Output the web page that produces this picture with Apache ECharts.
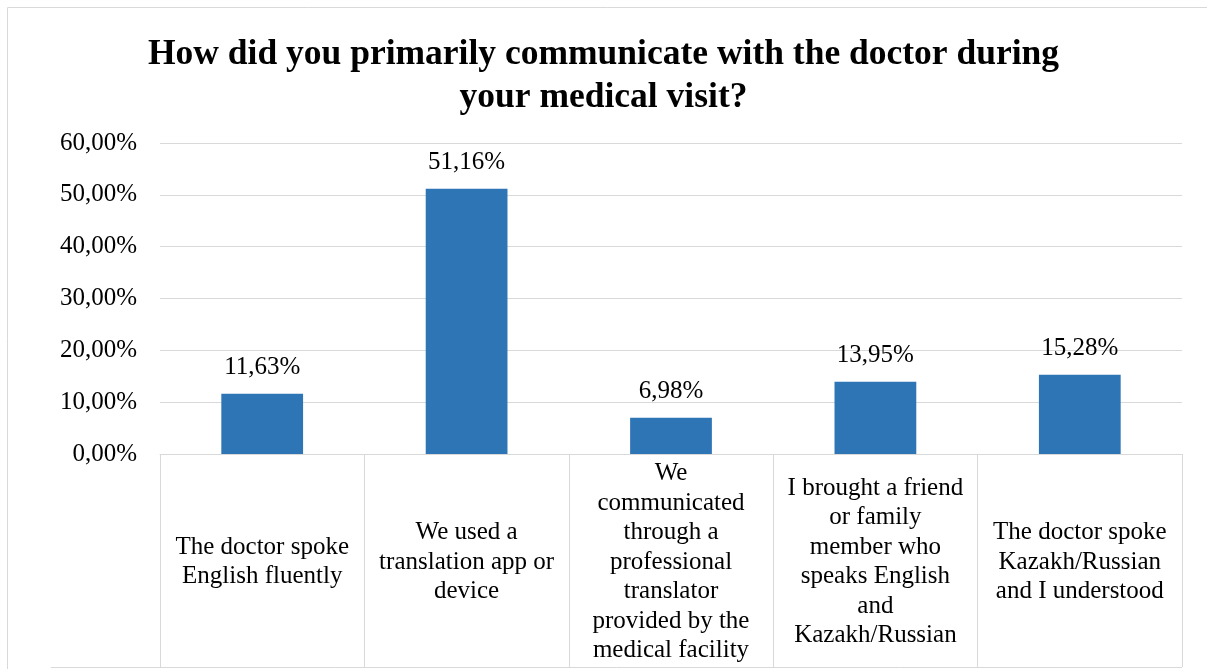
<!DOCTYPE html>
<html>
<head>
<meta charset="utf-8">
<script src="https://cdn.jsdelivr.net/npm/echarts@6/dist/echarts.min.js"></script>
<style>html,body{margin:0;padding:0;background:#fff;}#c{width:1207px;height:669px;}</style>
</head>
<body>
<div id="c"></div>
<script>
var titleText = 'How did you primarily communicate with the doctor during\nyour medical visit?';
var categories = [
  'The doctor spoke\nEnglish fluently',
  'We used a\ntranslation app or\ndevice',
  'We\ncommunicated\nthrough a\nprofessional\ntranslator\nprovided by the\nmedical facility',
  'I brought a friend\nor family\nmember who\nspeaks English\nand\nKazakh/Russian',
  'The doctor spoke\nKazakh/Russian\nand I understood'
];
var values = [11.63, 51.16, 6.98, 13.95, 15.28];
var yMin = 0, yMax = 60, yInterval = 10;

function fmt(v) { return v.toFixed(2).replace('.', ',') + '%'; }

var serif = "'Liberation Serif', 'Times New Roman', serif";
var grey = '#d9d9d9';
var chart = echarts.init(document.getElementById('c'));
chart.setOption({
  animation: false,
  title: {
    text: titleText,
    left: 'center',
    top: 28,
    padding: [5, 5, 5, 17],
    textStyle: { fontFamily: serif, fontSize: 35.5, fontWeight: 'bold', color: '#000', lineHeight: 43 }
  },
  grid: { left: 160, right: 25, top: 143, bottom: 215 },
  xAxis: {
    type: 'category',
    data: categories,
    axisLine: { lineStyle: { color: grey, width: 1 } },
    axisTick: { show: true, length: 213, lineStyle: { color: grey, width: 1 } },
    axisLabel: {
      interval: 0, margin: 108, verticalAlign: 'middle',
      fontFamily: serif, fontSize: 25, lineHeight: 29.5, color: '#000', align: 'center'
    }
  },
  yAxis: {
    type: 'value', min: yMin, max: yMax, interval: yInterval,
    axisLine: { show: false }, axisTick: { show: false },
    splitLine: { lineStyle: { color: grey, width: 1 } },
    axisLabel: { formatter: fmt, fontFamily: serif, fontSize: 25, color: '#000', margin: 23 }
  },
  series: [{
    type: 'bar',
    data: values,
    barWidth: '40%',
    itemStyle: { color: '#2E75B6' },
    label: {
      show: true, position: 'top', distance: 14,
      formatter: function (p) { return fmt(p.value); },
      fontFamily: serif, fontSize: 25, color: '#000'
    }
  }],
  graphic: [
    { type: 'line', shape: { x1: 7.5, y1: 7.5, x2: 1207, y2: 7.5 }, style: { stroke: grey, lineWidth: 1 } },
    { type: 'line', shape: { x1: 7.5, y1: 7.5, x2: 7.5, y2: 669 }, style: { stroke: grey, lineWidth: 1 } },
    { type: 'line', shape: { x1: 51, y1: 667.5, x2: 1182, y2: 667.5 }, style: { stroke: grey, lineWidth: 1 } }
  ]
});
</script>
</body>
</html>
